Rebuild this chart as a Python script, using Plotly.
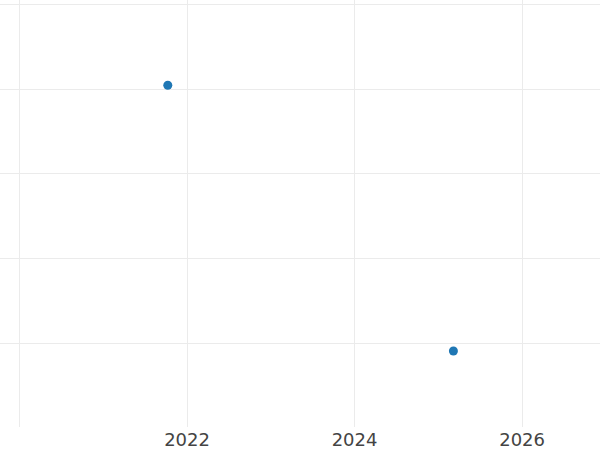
import plotly.graph_objects as go

years = [2021.77, 2025.18]
values = [40.5, 9.05]

x_range = [2019.767, 2026.93]
y_range = [0.06, 50.59]

fig = go.Figure(
    go.Scatter(
        x=years, y=values, mode="markers",
        marker=dict(color="#1f77b4", size=9),
    )
)
fig.update_layout(
    width=600, height=450,
    margin=dict(l=0, r=0, t=0, b=23),
    paper_bgcolor="white", plot_bgcolor="white",
    font=dict(family="DejaVu Sans, sans-serif", size=18, color="#444"),
    showlegend=False,
)
fig.update_xaxes(
    range=x_range, dtick=2, tick0=2020,
    showgrid=True, gridcolor="#ebebeb", gridwidth=1,
    zeroline=False, showline=False, ticks="",
    ticklabeloverflow="hide past div",
)
fig.update_yaxes(
    range=y_range, dtick=10, tick0=0,
    showgrid=True, gridcolor="#ebebeb", gridwidth=1,
    zeroline=False, showline=False, ticks="",
    showticklabels=False,
)
fig.write_html(
    "out.html",
    config={"displayModeBar": False},
    post_script="document.body.style.margin='0';document.body.style.overflow='hidden';",
)
